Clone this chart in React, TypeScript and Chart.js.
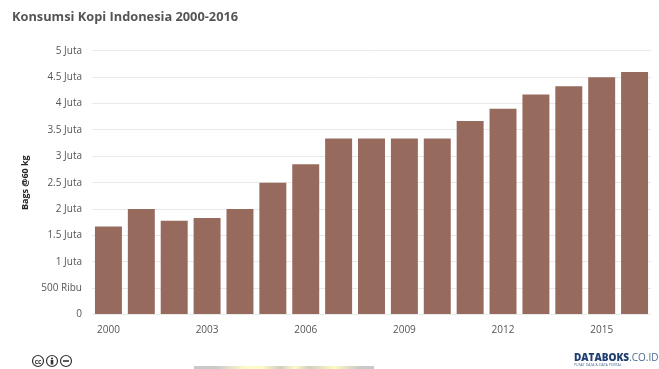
import React, { useEffect, useRef } from "react";
import { Chart, registerables } from "chart.js";

Chart.register(...registerables);

const years = ["2000","2001","2002","2003","2004","2005","2006","2007","2008","2009","2010","2011","2012","2013","2014","2015","2016"];
const consumption = [1.67,2.0,1.78,1.83,2.0,2.5,2.85,3.34,3.34,3.34,3.34,3.67,3.9,4.17,4.33,4.5,4.6];
const yLabels: Record<string, string> = {
  "0": "0", "0.5": "500 Ribu", "1": "1 Juta", "1.5": "1.5 Juta", "2": "2 Juta",
  "2.5": "2.5 Juta", "3": "3 Juta", "3.5": "3.5 Juta", "4": "4 Juta", "4.5": "4.5 Juta", "5": "5 Juta",
};
const titleText = "Konsumsi Kopi Indonesia 2000-2016";
const yAxisTitle = "Bags @60 kg";

const FONT = "'Open Sans', sans-serif";

export default function App() {
  const canvasRef = useRef<HTMLCanvasElement>(null);

  useEffect(() => {
    const chart = new Chart(canvasRef.current!, {
      type: "bar",
      data: {
        labels: years,
        datasets: [{
          data: consumption,
          backgroundColor: "#966a5c",
          categoryPercentage: 0.82,
          barPercentage: 1,
        }],
      },
      options: {
        animation: false,
        responsive: false,
        layout: { padding: { left: 12, right: 8, top: 0, bottom: 0 } },
        plugins: {
          legend: { display: false },
          tooltip: { enabled: false },
          title: {
            display: true,
            text: titleText,
            align: "start",
            color: "#555555",
            font: { family: FONT, size: 12.8, weight: "bold" },
            padding: { top: 10, bottom: 25.5 },
          },
        },
        scales: {
          x: {
            grid: { display: false },
            border: { display: false },
            afterFit: (s: any) => { s.height = 54.5; },
            ticks: {
              autoSkip: false,
              maxRotation: 0,
              color: "#555555",
              font: { family: FONT, size: 10 },
              padding: 2,
              callback: (_v: any, i: number) => (i % 3 === 0 ? years[i] : ""),
            },
          },
          y: {
            min: 0,
            max: 5,
            afterFit: (s: any) => { s.width = 80; },
            grid: { color: "#e9e9e9", drawTicks: false },
            border: { display: false },
            ticks: {
              stepSize: 0.5,
              color: "#555555",
              font: { family: FONT, size: 10 },
              padding: 10,
              callback: (v: any) => yLabels[String(v)] ?? "",
            },
            title: {
              display: true,
              text: yAxisTitle,
              color: "#222222",
              font: { family: FONT, size: 9, weight: "bold" },
              padding: { top: 8, bottom: 0 },
            },
          },
        },
      },
    });
    return () => chart.destroy();
  }, []);

  return (
    <div style={{ position: "fixed", left: 0, top: 0, width: 659, height: 369, background: "#fff", overflow: "hidden" }}>
      <canvas ref={canvasRef} width={659} height={369} style={{ display: "block" }} />
      <svg width={44} height={14} style={{ position: "absolute", left: 31, top: 354 }}>
        {[7, 21, 35].map((cx) => (
          <circle key={cx} cx={cx} cy={7} r={5.5} fill="none" stroke="#333" strokeWidth={1.2} />
        ))}
        <text x={7} y={9.5} textAnchor="middle" fontSize={6.5} fontWeight="bold" fontFamily="Open Sans" fill="#333">cc</text>
        <circle cx={21} cy={4.5} r={1.1} fill="#333" />
        <rect x={19.7} y={6} width={2.6} height={4.5} fill="#333" />
        <rect x={32} y={6.2} width={6} height={1.6} fill="#333" />
      </svg>
      <div style={{ position: "absolute", left: 574, top: 352, whiteSpace: "nowrap", fontFamily: FONT, fontSize: 10, lineHeight: "11px" }}>
        <span style={{ fontWeight: 800, color: "#1f3f72" }}>DATABOKS</span>
        <span style={{ color: "#4a6a92" }}>.CO.ID</span>
      </div>
      <div style={{ position: "absolute", left: 574, top: 363, whiteSpace: "nowrap", fontFamily: FONT, fontSize: 3.5, lineHeight: "4px", color: "#4a6a92" }}>
        PUSAT DATA &amp; DATA PORTAL
      </div>
      {/* Faint band along the bottom edge */}
      <div
        style={{
          position: "absolute",
          left: 194,
          top: 366,
          width: 180,
          height: 3,
          filter: "blur(0.6px)",
          background:
            "linear-gradient(90deg, #c9c9c9 0%, #c9c9c9 12%, #fbfbc8 28%, #fbfbc8 38%, #cfcfc0 48%, #fbfbc8 56%, #cfcfc0 64%, #fbfbc0 78%, #c9c9c9 92%, #c9c9c9 100%)",
        }}
      />
    </div>
  );
}
